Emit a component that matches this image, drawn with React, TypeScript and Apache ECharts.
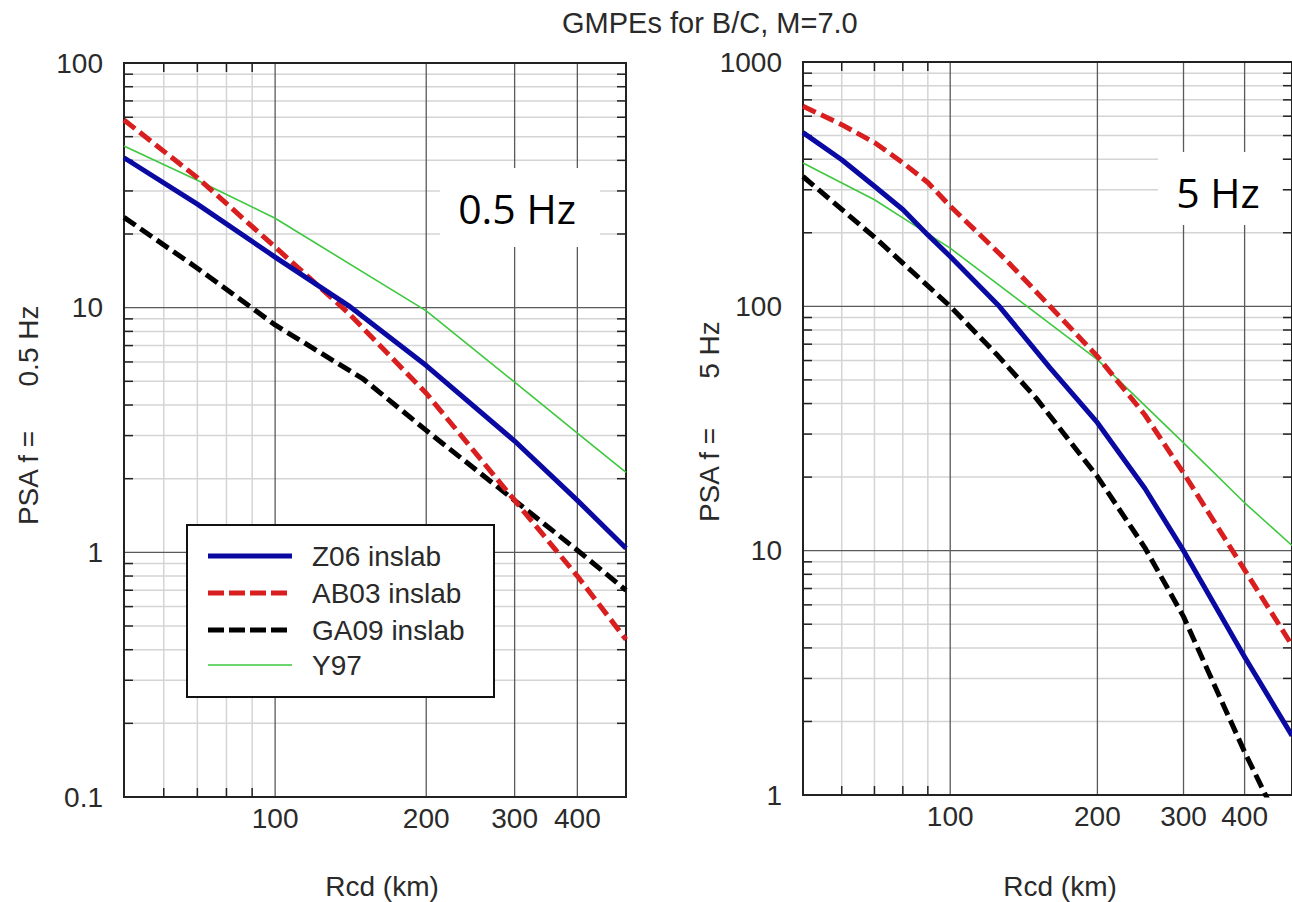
import React, { useEffect, useRef } from "react";
import * as echarts from "echarts";

const TITLE = "GMPEs for B/C, M=7.0";
const X_NAME = "Rcd (km)";
const Y_NAME_PREFIX = "PSA f =";
const Y_NAME_LEFT = "0.5 Hz";
const Y_NAME_RIGHT = "5 Hz";
const PANEL_LABEL_LEFT = "0.5 Hz";
const PANEL_LABEL_RIGHT = "5 Hz";
const SERIES_NAMES = ["Z06 inslab", "AB03 inslab", "GA09 inslab", "Y97"];

// distance range (km)
const X_MIN = 50;
const X_MAX = 500;
const xMinorGrid = [60, 70, 80, 90];
const xMajorGrid = [100, 200, 300, 400];
const xTickLabels = [100, 200, 300, 400];

// 0.5 Hz panel axes
const Y05_MIN = 0.1;
const Y05_MAX = 100;
const y05Minor = [0.2, 0.3, 0.4, 0.5, 0.6, 0.7, 0.8, 0.9, 2, 3, 4, 5, 6, 7, 8, 9, 20, 30, 40, 50, 60, 70, 80, 90];
const y05Major = [1, 10];
const y05Labels = [0.1, 1, 10, 100];

// 5 Hz panel axes
const Y5_MIN = 1;
const Y5_MAX = 1000;
const y5Minor = [2, 3, 4, 5, 6, 7, 8, 9, 20, 30, 40, 50, 60, 70, 80, 90, 200, 300, 400, 500, 600, 700, 800, 900];
const y5Major = [10, 100];
const y5Labels = [1, 10, 100, 1000];

// 0.5 Hz curves [Rcd, PSA]
const z06_05 = [[50, 41], [70, 26.5], [100, 16.1], [140, 10.2], [200, 5.8], [300, 2.85], [400, 1.63], [500, 1.04]];
const ab03_05 = [[50, 58.5], [70, 34], [100, 17.7], [140, 9.5], [200, 4.47], [300, 1.63], [400, 0.8], [500, 0.44]];
const ga09_05 = [[50, 23.4], [70, 14.5], [100, 8.5], [150, 5.1], [200, 3.15], [300, 1.63], [400, 1.02], [500, 0.7]];
const y97_05 = [[50, 45.8], [70, 33.2], [100, 23.2], [200, 9.7], [300, 4.96], [400, 3.07], [500, 2.12]];

// 5 Hz curves [Rcd, PSA]
const z06_5 = [[50, 514], [60, 398], [70, 310], [80, 249], [90, 196], [100, 160], [126, 100], [160, 56], [200, 33.4], [250, 18], [300, 10], [400, 3.67], [500, 1.75]];
const ab03_5 = [[50, 659], [60, 554], [70, 468], [80, 387], [90, 321], [100, 257], [130, 155], [160, 100], [200, 62.4], [250, 36], [300, 20.8], [400, 8.34], [500, 4.1]];
const ga09_5 = [[50, 340], [70, 192], [100, 100], [125, 63], [150, 42], [200, 20.1], [250, 10.3], [300, 5.37], [400, 1.5], [500, 0.6]];
const y97_5 = [[50, 386], [70, 273], [80, 230], [100, 173], [200, 60.5], [300, 27.6], [400, 15.7], [500, 10.5]];

const FONT = "'Liberation Sans', Arial, sans-serif";
const TEXT_COLOR = "#2a2a2a";
const MINOR = "#d4d4d4";
const MAJOR = "#5a5a5a";
const AXIS = "#222";

const BLUE = "#0a0aa2";
const RED = "#d81e1e";
const BLACK = "#000000";
const GREEN = "#3ec83e";

const renderGrid = (params: any, api: any) => {
  const cs = params.coordSys;
  const x0 = cs.x;
  const y0 = cs.y;
  const w = cs.width;
  const h = cs.height;
  const code = api.value(2);
  const p = api.coord([api.value(0), api.value(1)]);
  const T = 9;
  if (code === 0) {
    return {
      type: "group",
      children: [
        { type: "line", shape: { x1: p[0], y1: y0, x2: p[0], y2: y0 + h }, style: { stroke: MINOR, lineWidth: 1.5 } },
        { type: "line", shape: { x1: p[0], y1: y0, x2: p[0], y2: y0 + T }, style: { stroke: AXIS, lineWidth: 1.5 } },
        { type: "line", shape: { x1: p[0], y1: y0 + h - T, x2: p[0], y2: y0 + h }, style: { stroke: AXIS, lineWidth: 1.5 } },
      ],
    };
  }
  if (code === 1) {
    return { type: "line", shape: { x1: p[0], y1: y0, x2: p[0], y2: y0 + h }, style: { stroke: MAJOR, lineWidth: 1.3 } };
  }
  if (code === 2) {
    return {
      type: "group",
      children: [
        { type: "line", shape: { x1: x0, y1: p[1], x2: x0 + w, y2: p[1] }, style: { stroke: MINOR, lineWidth: 1.5 } },
        { type: "line", shape: { x1: x0, y1: p[1], x2: x0 + T, y2: p[1] }, style: { stroke: AXIS, lineWidth: 1.5 } },
        { type: "line", shape: { x1: x0 + w - T, y1: p[1], x2: x0 + w, y2: p[1] }, style: { stroke: AXIS, lineWidth: 1.5 } },
      ],
    };
  }
  if (code === 3) {
    return { type: "line", shape: { x1: x0, y1: p[1], x2: x0 + w, y2: p[1] }, style: { stroke: MAJOR, lineWidth: 1.3 } };
  }
  if (code === 4) {
    return {
      type: "text",
      x: p[0],
      y: y0 + h + 21,
      style: { text: String(api.value(0)), fill: TEXT_COLOR, fontSize: 28, fontFamily: FONT, align: "center", verticalAlign: "middle" },
    };
  }
  if (code === 5) {
    return {
      type: "text",
      x: x0 - 21,
      y: p[1],
      style: { text: String(api.value(1)), fill: TEXT_COLOR, fontSize: 28, fontFamily: FONT, align: "right", verticalAlign: "middle" },
    };
  }
  return { type: "rect", shape: { x: x0, y: y0, width: w, height: h }, style: { fill: "none", stroke: AXIS, lineWidth: 2 } };
};

function gridSeries(idx: number, yMin: number, yMinor: number[], yMajor: number[], yLabels: number[]) {
  const items: number[][] = [];
  xMinorGrid.forEach((v) => items.push([v, yMin, 0]));
  yMinor.forEach((v) => items.push([X_MIN, v, 2]));
  xMajorGrid.forEach((v) => items.push([v, yMin, 1]));
  yMajor.forEach((v) => items.push([X_MIN, v, 3]));
  xTickLabels.forEach((v) => items.push([v, yMin, 4]));
  yLabels.forEach((v) => items.push([X_MIN, v, 5]));
  items.push([X_MIN, yMin, 6]);
  return {
    type: "custom",
    xAxisIndex: idx,
    yAxisIndex: idx,
    z: 1,
    silent: true,
    renderItem: renderGrid,
    data: items,
  };
}

function lineSeries(idx: number, name: string, data: number[][], color: string, width: number, dashed: boolean) {
  return {
    type: "line",
    name,
    xAxisIndex: idx,
    yAxisIndex: idx,
    data,
    symbol: "none",
    showSymbol: false,
    smooth: false,
    clip: true,
    z: 3,
    lineStyle: { color, width, type: dashed ? [14, 6] : "solid", cap: "butt", join: "round" },
  };
}

const legendRows = [
  { name: SERIES_NAMES[0], color: BLUE, width: 5, dash: null as any },
  { name: SERIES_NAMES[1], color: RED, width: 5, dash: [16, 5] },
  { name: SERIES_NAMES[2], color: BLACK, width: 5, dash: [16, 5] },
  { name: SERIES_NAMES[3], color: GREEN, width: 1.6, dash: null as any },
];
const legendRowY = [556, 593, 630, 665];

export default function App() {
  const ref = useRef<HTMLDivElement>(null);
  useEffect(() => {
    if (!ref.current) return;
    const chart = echarts.init(ref.current, undefined, { renderer: "svg" });

    const legendGraphics: any[] = [
      {
        type: "rect",
        shape: { x: 187, y: 525, width: 307, height: 172 },
        style: { fill: "#fff", stroke: "#111", lineWidth: 2 },
        z: 10,
      },
    ];
    legendRows.forEach((r, i) => {
      legendGraphics.push({
        type: "line",
        shape: { x1: 208, y1: legendRowY[i], x2: 292, y2: legendRowY[i] },
        style: { stroke: r.color, lineWidth: r.width, lineDash: r.dash || undefined },
        z: 11,
      });
      legendGraphics.push({
        type: "text",
        x: 312,
        y: legendRowY[i],
        style: { text: r.name, fill: TEXT_COLOR, fontSize: 28, fontFamily: FONT, align: "left", verticalAlign: "middle" },
        z: 11,
      });
    });

    const nameStyle = { fill: TEXT_COLOR, fontSize: 28, fontFamily: FONT, align: "center", verticalAlign: "middle" };

    const option: any = {
      animation: false,
      backgroundColor: "#fff",
      title: {
        text: TITLE,
        left: 562,
        top: 8,
        padding: 0,
        textStyle: { fontSize: 29, fontWeight: "normal", fontFamily: FONT, color: TEXT_COLOR },
      },
      grid: [
        { left: 124, top: 63, width: 502, height: 734 },
        { left: 803, top: 62, width: 491, height: 733 },
      ],
      xAxis: [
        { type: "log", logBase: 10, min: X_MIN, max: X_MAX, gridIndex: 0, show: false },
        { type: "log", logBase: 10, min: X_MIN, max: X_MAX, gridIndex: 1, show: false },
      ],
      yAxis: [
        { type: "log", logBase: 10, min: Y05_MIN, max: Y05_MAX, gridIndex: 0, show: false },
        { type: "log", logBase: 10, min: Y5_MIN, max: Y5_MAX, gridIndex: 1, show: false },
      ],
      series: [
        gridSeries(0, Y05_MIN, y05Minor, y05Major, y05Labels),
        gridSeries(1, Y5_MIN, y5Minor, y5Major, y5Labels),
        lineSeries(0, SERIES_NAMES[3], y97_05, GREEN, 1.6, false),
        lineSeries(0, SERIES_NAMES[2], ga09_05, BLACK, 5, true),
        lineSeries(0, SERIES_NAMES[1], ab03_05, RED, 5, true),
        lineSeries(0, SERIES_NAMES[0], z06_05, BLUE, 5, false),
        lineSeries(1, SERIES_NAMES[3], y97_5, GREEN, 1.6, false),
        lineSeries(1, SERIES_NAMES[2], ga09_5, BLACK, 5, true),
        lineSeries(1, SERIES_NAMES[1], ab03_5, RED, 5, true),
        lineSeries(1, SERIES_NAMES[0], z06_5, BLUE, 5, false),
      ],
      graphic: [
        // panel labels
        { type: "rect", shape: { x: 440, y: 168, width: 160, height: 79 }, style: { fill: "#fff" }, z: 10 },
        {
          type: "text", x: 517, y: 208, z: 11,
          style: { text: PANEL_LABEL_LEFT, fill: "#000", fontSize: 41, fontFamily: "'Open Sans', 'Noto Sans', sans-serif", align: "center", verticalAlign: "middle" },
        },
        { type: "rect", shape: { x: 1158, y: 152, width: 124, height: 73 }, style: { fill: "#fff" }, z: 10 },
        {
          type: "text", x: 1218, y: 192, z: 11,
          style: { text: PANEL_LABEL_RIGHT, fill: "#000", fontSize: 41, fontFamily: "'Open Sans', 'Noto Sans', sans-serif", align: "center", verticalAlign: "middle" },
        },
        // x axis names
        { type: "text", x: 382, y: 886, style: { text: X_NAME, ...nameStyle } },
        { type: "text", x: 1060, y: 886, style: { text: X_NAME, ...nameStyle } },
        // y axis names
        { type: "text", x: 28, y: 478, rotation: Math.PI / 2, style: { text: Y_NAME_PREFIX, ...nameStyle } },
        { type: "text", x: 28, y: 346, rotation: Math.PI / 2, style: { text: Y_NAME_LEFT, ...nameStyle } },
        { type: "text", x: 709, y: 475, rotation: Math.PI / 2, style: { text: Y_NAME_PREFIX, ...nameStyle } },
        { type: "text", x: 709, y: 350, rotation: Math.PI / 2, style: { text: Y_NAME_RIGHT, ...nameStyle } },
        ...legendGraphics,
      ],
    };
    chart.setOption(option);
    return () => chart.dispose();
  }, []);
  return (
    <div
      ref={ref}
      style={{ position: "fixed", left: 0, top: 0, width: 1292, height: 902, background: "#fff" }}
    />
  );
}
